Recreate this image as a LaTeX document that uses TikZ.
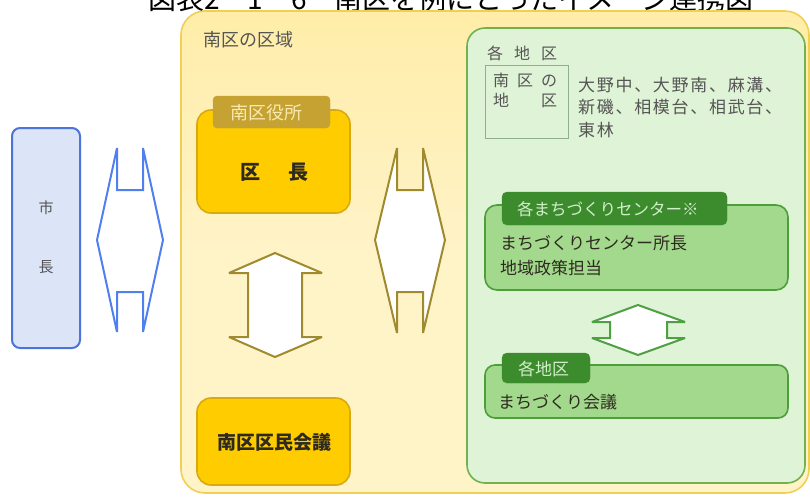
\documentclass[tikz,border=0pt]{standalone}
\usepackage{fontspec}
\setmainfont{Noto Sans CJK JP}
\newfontfamily\jpls[LetterSpace=10]{Noto Sans CJK JP}
\definecolor{yfill}{HTML}{FFF3C8}
\definecolor{ytop}{HTML}{FFEDA8}
\definecolor{yline}{HTML}{F0CF55}
\definecolor{gfill}{HTML}{DFF3D6}
\definecolor{gline}{HTML}{72B052}
\definecolor{gbox}{HTML}{A3D98D}
\definecolor{gboxline}{HTML}{4E9E3C}
\definecolor{gtab}{HTML}{3C8C2E}
\definecolor{gtabtext}{HTML}{D2EECA}
\definecolor{garrow}{HTML}{4EA043}
\definecolor{gold}{HTML}{FFCC00}
\definecolor{goldline}{HTML}{D9AA10}
\definecolor{goldtab}{HTML}{C6A232}
\definecolor{goldtabtext}{HTML}{F8EAB0}
\definecolor{olive}{HTML}{A08A2E}
\definecolor{bfill}{HTML}{DCE4F8}
\definecolor{bline}{HTML}{4C74DC}
\definecolor{barrowc}{HTML}{5080F0}
\definecolor{graytext}{HTML}{555555}
\definecolor{darktext}{HTML}{2E2A20}
\definecolor{smallbox}{HTML}{8FB08A}
\tikzset{
  fs/.style={font=\fontsize{#1}{#1}\selectfont},
  fsb/.style={font=\fontsize{#1}{#1}\selectfont\bfseries},
  boxnode/.style={draw, rectangle, inner sep=0pt},
  txt/.style={inner sep=0pt},
  arrowshape/.style={fill=white, line width=2pt, line join=miter, miter limit=3},
}
\begin{document}
\begin{tikzpicture}[x=1pt,y=-1pt]
\useasboundingbox (0,0) rectangle (810,496);
\clip (0,0) rectangle (810,496);
\fill[white] (0,0) rectangle (810,496);

% title (cut off at the top, as in the reference)
\node[txt, fs=28, anchor=base west] (title) at (148,9.5) {図表2－1－6　南区を例にとったイメージ連携図};

% regions
\node[boxnode, top color=ytop, bottom color=yfill, middle color=yfill,
      draw=yline, line width=1.6pt, rounded corners=24pt,
      minimum width=628, minimum height=482] (nanku) at (495,252) {};
\node[txt, fs=18, text=graytext, anchor=west] (nankulbl) at (203,40) {南区の区域};

\node[boxnode, fill=gfill, draw=gline, line width=1.6pt, rounded corners=18pt,
      minimum width=338, minimum height=455] (chiku) at (636,255.5) {};

% mayor
\node[boxnode, fill=bfill, draw=bline, line width=2pt, rounded corners=8pt,
      minimum width=68, minimum height=220] (shicho) at (46,238) {};
\node[txt, fs=15, text=graytext] (shi) at (46,208) {市};
\node[txt, fs=15, text=graytext] (cho) at (46,267) {長};

% blue double arrow
\draw[arrowshape, draw=barrowc] (117,148) -- (117,190) -- (143,190) -- (143,148) -- (163,240)
  -- (143,332) -- (143,292) -- (117,292) -- (117,332) -- (97,240) -- cycle;

% ward office
\node[boxnode, fill=gold, draw=goldline, line width=1.6pt, rounded corners=14pt,
      minimum width=153, minimum height=103] (kucho) at (273.5,161.5) {};
\node[boxnode, fill=goldtab, draw=goldtab, rounded corners=4pt,
      minimum width=117, minimum height=32] (kuyakusho) at (271.5,112) {};
\node[txt, fs=18, text=goldtabtext] (kuyakushotxt) at (266.5,113) {南区役所};
\node[txt, fsb=20, text=darktext] (kuchotxt) at (274,172) {区\hspace{28pt}長};

% ward citizens' council
\node[boxnode, fill=gold, draw=goldline, line width=1.6pt, rounded corners=14pt,
      minimum width=153, minimum height=87] (kumin) at (273.5,441.5) {};
\node[txt, fsb=19, text=darktext] (kumintxt) at (274,442) {南区区民会議};

% yellow vertical double arrow
\draw[arrowshape, draw=olive] (275,253) -- (322,273) -- (302,273) -- (302,337) -- (322,337)
  -- (275,357) -- (229,337) -- (248,337) -- (248,273) -- (229,273) -- cycle;

% yellow horizontal double arrow
\draw[arrowshape, draw=olive] (397,148) -- (397,190) -- (423,190) -- (423,148) -- (445,240)
  -- (423,333) -- (423,292) -- (397,292) -- (397,333) -- (375,240) -- cycle;

% districts
\node[txt, fs=16, text=graytext, anchor=west] (kakuchiku) at (487,53) {各\hspace{11pt}地\hspace{11pt}区};
\node[boxnode, draw=smallbox, line width=1pt, minimum width=83, minimum height=73] (chikubox) at (526.5,101.5) {};
\node[txt, fs=16, text=graytext, anchor=west] (chikubox1) at (493,80) {南\hspace{8pt}区\hspace{8pt}の};
\node[txt, fs=16, text=graytext, anchor=west] (chikubox2) at (493,100) {地\hspace{32pt}区};
\node[txt, font=\jpls\fontsize{17}{17}\selectfont, text=graytext, anchor=west] (d1) at (578,85) {大野中、大野南、麻溝、};
\node[txt, font=\jpls\fontsize{17}{17}\selectfont, text=graytext, anchor=west] (d2) at (578,107) {新磯、相模台、相武台、};
\node[txt, font=\jpls\fontsize{17}{17}\selectfont, text=graytext, anchor=west] (d3) at (578,130) {東林};

% machizukuri center
\node[boxnode, fill=gbox, draw=gboxline, line width=1.6pt, rounded corners=12pt,
      minimum width=303, minimum height=85] (center) at (636.5,247.5) {};
\node[boxnode, fill=gtab, draw=gtab, rounded corners=5pt,
      minimum width=225, minimum height=33] (centertab) at (614.5,208.5) {};
\node[txt, fs=16.5, text=gtabtext, anchor=west] (centertabtxt) at (517,209) {各まちづくりセンター※};
\node[txt, fs=17, text=darktext, anchor=west] (center1) at (500,243) {まちづくりセンター所長};
\node[txt, fs=17, text=darktext, anchor=west] (center2) at (500,268) {地域政策担当};

% green double arrow
\draw[arrowshape, draw=garrow] (638,305) -- (685,322) -- (667,322) -- (667,338) -- (685,338)
  -- (638,355) -- (592,338) -- (610,338) -- (610,322) -- (592,322) -- cycle;

% machizukuri council
\node[boxnode, fill=gbox, draw=gboxline, line width=1.6pt, rounded corners=10pt,
      minimum width=303, minimum height=53] (kaigi) at (636.5,391.5) {};
\node[boxnode, fill=gtab, draw=gtab, rounded corners=5pt,
      minimum width=88, minimum height=30] (kaigitab) at (546,368) {};
\node[txt, fs=17, text=gtabtext, anchor=west] (kaigitabtxt) at (518,369) {各地区};
\node[txt, fs=17, text=darktext, anchor=west] (kaigitxt) at (498,402) {まちづくり会議};
\end{tikzpicture}
\end{document}
